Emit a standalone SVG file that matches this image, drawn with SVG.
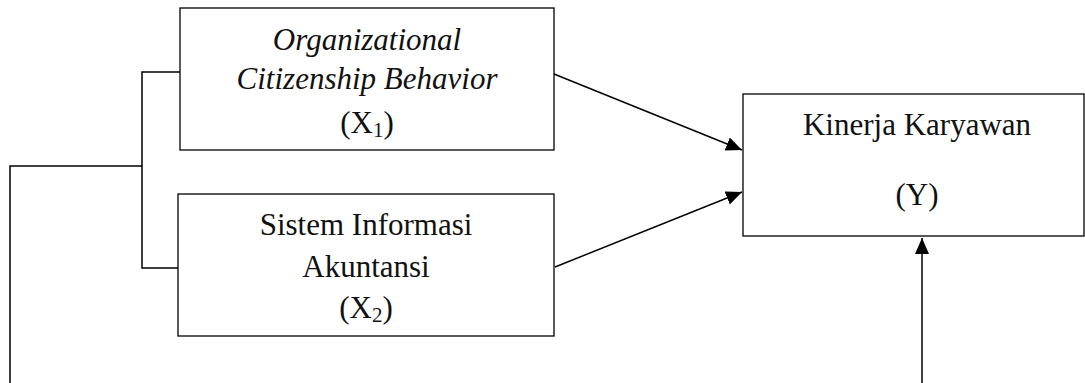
<svg xmlns="http://www.w3.org/2000/svg" width="1085" height="383" viewBox="0 0 1085 383">
<style>
.box{fill:#fff;stroke:#000;stroke-width:1.3}
.t{font-family:"Liberation Serif","Times New Roman",serif;font-size:31px;fill:#111;text-anchor:middle}
.i{font-style:italic}
.sub{font-size:21px}
.c{fill:none;stroke:#000;stroke-width:1.5}
</style>
<defs>
<marker id="ah" markerUnits="userSpaceOnUse" markerWidth="17" markerHeight="15" refX="16" refY="7" orient="auto">
<path d="M0,0 L16,7 L0,14 z" fill="#000"/>
</marker>
</defs>
<g id="connectors">
<polyline class="c" points="180,72 142,72 142,268 178,268"/>
<polyline class="c" points="142,166 10,166 10,383"/>
<line class="c" x1="554" y1="74" x2="742" y2="150" marker-end="url(#ah)"/>
<line class="c" x1="555" y1="267" x2="742" y2="192" marker-end="url(#ah)"/>
<line class="c" x1="922" y1="383" x2="922" y2="238" marker-end="url(#ah)"/>
</g>
<g id="ocb">
<rect class="box" x="180" y="8" width="374" height="142"/>
<text class="t i" x="367" y="50">Organizational</text>
<text class="t i" x="367" y="89">Citizenship Behavior</text>
<text class="t" x="367" y="133">(X<tspan class="sub" dy="4">1</tspan><tspan dy="-4">)</tspan></text>
</g>
<g id="sia">
<rect class="box" x="178" y="194" width="376" height="142"/>
<text class="t" x="366" y="235">Sistem Informasi</text>
<text class="t" x="366" y="277">Akuntansi</text>
<text class="t" x="366" y="318">(X<tspan class="sub" dy="4">2</tspan><tspan dy="-4">)</tspan></text>
</g>
<g id="kinerja">
<rect class="box" x="743" y="94" width="341" height="142"/>
<text class="t" x="917" y="135">Kinerja Karyawan</text>
<text class="t" x="917" y="205">(Y)</text>
</g>
</svg>
